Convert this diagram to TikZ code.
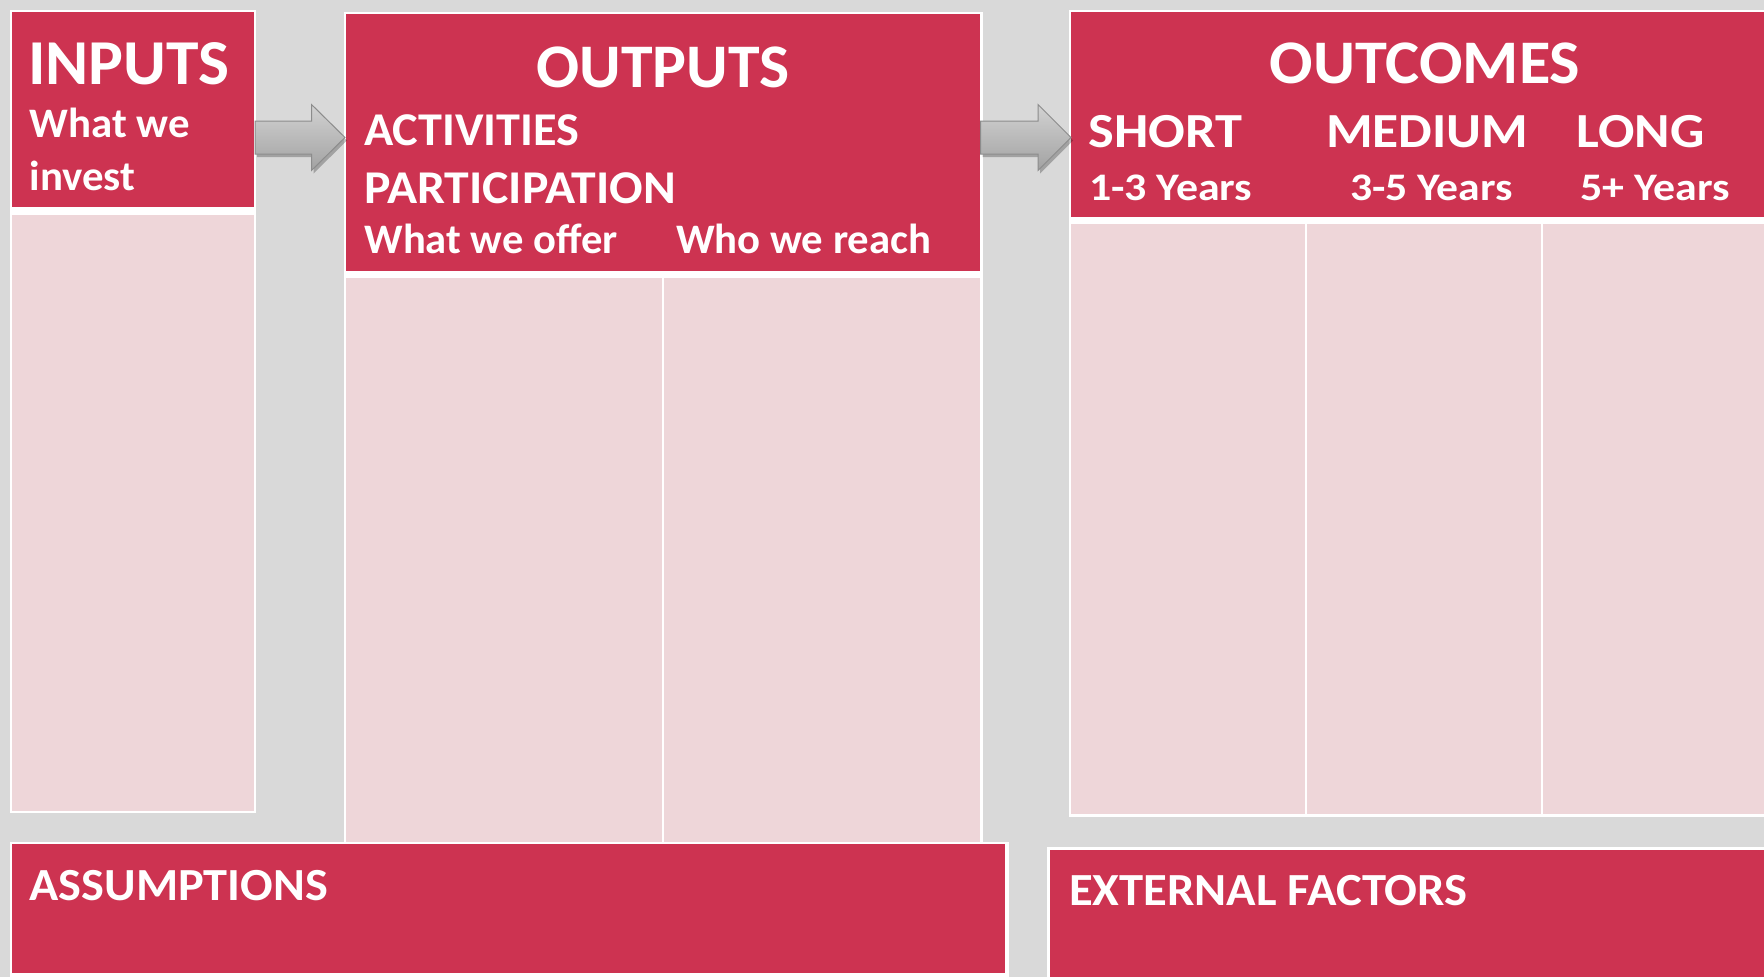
\documentclass[tikz,border=0pt]{standalone}
\usepackage{fontspec}
\setmainfont{Carlito}
\usetikzlibrary{shadows}
\definecolor{canvas}{HTML}{D9D9D9}
\definecolor{hdr}{HTML}{CD3351}
\definecolor{cellpink}{HTML}{EED6D9}
\definecolor{arrowedge}{HTML}{8C8C8C}
\definecolor{arrowtop}{HTML}{D2D2D2}
\definecolor{arrowbot}{HTML}{A2A2A2}

\tikzset{
  box/.style={inner sep=0pt, outer sep=0pt, anchor=north west, draw=none},
  frame/.style={box, fill=white},
  header/.style={box, fill=hdr},
  cell/.style={box, fill=cellpink},
  lbl/.style={text=white, inner sep=0pt, outer sep=0pt, anchor=base west},
  ctr/.style={lbl, anchor=base},
  blockarrow/.style={draw=arrowedge, line width=1pt, line join=miter,
    top color=arrowtop, bottom color=arrowbot,
    drop shadow={shadow xshift=2pt, shadow yshift=-3pt, opacity=0.25, fill=black}},
}
% bold face at a given size, widened by a given factor
\newcommand\sizedbold[2]{\bfseries\fontsize{#1}{#1}\selectfont\addfontfeatures{FakeStretch=#2}}

\begin{document}
\begin{tikzpicture}[x=1pt, y=-1pt]
  \useasboundingbox (0,0) rectangle (1764,977);
  \fill[canvas] (0,0) rectangle (1764,977);

  % INPUTS column
  \node[frame, minimum width=246.5pt, minimum height=803.5pt] (inframe) at (9.5,9.5) {};
  \node[header, minimum width=242pt, minimum height=195pt] (inhead) at (12,12) {};
  \node[cell, minimum width=242pt, minimum height=596pt] (inbody) at (12,215) {};
  \node[lbl, font=\sizedbold{64}{1.024}] (intitle) at (28,84) {INPUTS};
  \node[lbl, font=\sizedbold{42}{1.02}] (insub1) at (29.5,137) {What we};
  \node[lbl, font=\sizedbold{42}{1.02}] (insub2) at (29.5,190.5) {invest};

  % OUTPUTS column
  \node[frame, minimum width=639pt, minimum height=831pt] (outframe) at (343.5,11.5) {};
  \node[header, minimum width=634pt, minimum height=257pt] (outhead) at (346,14) {};
  \node[cell, minimum width=316pt, minimum height=564pt] (outleft) at (346,278) {};
  \node[cell, minimum width=316pt, minimum height=564pt] (outright) at (664,278) {};
  \node[ctr, font=\sizedbold{62}{1.028}] (outtitle) at (663,87) {OUTPUTS};
  \node[lbl, font=\sizedbold{47}{1.027}] (activities) at (364,145) {ACTIVITIES};
  \node[lbl, font=\sizedbold{47}{1.058}] (participation) at (364,203) {PARTICIPATION};
  \node[lbl, font=\sizedbold{42}{1.014}] (offer) at (364.5,253) {What we offer};
  \node[lbl, font=\sizedbold{42}{1.018}] (reach) at (676,253) {Who we reach};

  % OUTCOMES column
  \node[frame, minimum width=720pt, minimum height=807.5pt] (ocframe) at (1068.5,9.5) {};
  \node[header, minimum width=720pt, minimum height=205pt] (ochead) at (1071,12) {};
  \node[cell, minimum width=234pt, minimum height=590pt] (ocshort) at (1071,224) {};
  \node[cell, minimum width=234pt, minimum height=590pt] (ocmedium) at (1307,224) {};
  \node[cell, minimum width=240pt, minimum height=590pt] (oclong) at (1543,224) {};
  \node[ctr, font=\sizedbold{62}{1.038}] (octitle) at (1425,83) {OUTCOMES};
  \node[lbl, font=\sizedbold{49}{1.11}] (short) at (1088.5,147) {SHORT};
  \node[lbl, font=\sizedbold{49}{1.09}] (medium) at (1326,147) {MEDIUM};
  \node[lbl, font=\sizedbold{49}{1.10}] (long) at (1576.5,147) {LONG};
  \node[lbl, font=\sizedbold{39}{1.125}] (yshort) at (1089,200) {1-3 Years};
  \node[lbl, font=\sizedbold{39}{1.12}] (ymedium) at (1350,200) {3-5 Years};
  \node[lbl, font=\sizedbold{39}{1.125}] (ylong) at (1580,200) {5+ Years};

  % Bottom strips
  \node[frame, minimum width=999pt, minimum height=135pt] (asframe) at (9.5,841.5) {};
  \node[header, minimum width=993pt, minimum height=129pt] (ashead) at (12,844) {};
  \node[lbl, font=\sizedbold{46}{1.05}] (astitle) at (29.5,900.5) {ASSUMPTIONS};

  \node[frame, minimum width=730pt, minimum height=140pt] (exframe) at (1046.5,846.5) {};
  \node[header, minimum width=730pt, minimum height=140pt] (exhead) at (1050,849.5) {};
  \node[lbl, font=\sizedbold{46}{1.057}] (extitle) at (1069,905) {EXTERNAL FACTORS};

  % Block arrows between the columns
  \path[blockarrow] (255,121) -- (311.5,121) -- (311.5,104.5) -- (345,137.5)
    -- (311.5,170.5) -- (311.5,154) -- (255,154) -- cycle;
  \path[blockarrow] (980.5,121) -- (1038,121) -- (1038,104.5) -- (1071,137.5)
    -- (1038,170.5) -- (1038,154) -- (980.5,154) -- cycle;
\end{tikzpicture}
\end{document}
